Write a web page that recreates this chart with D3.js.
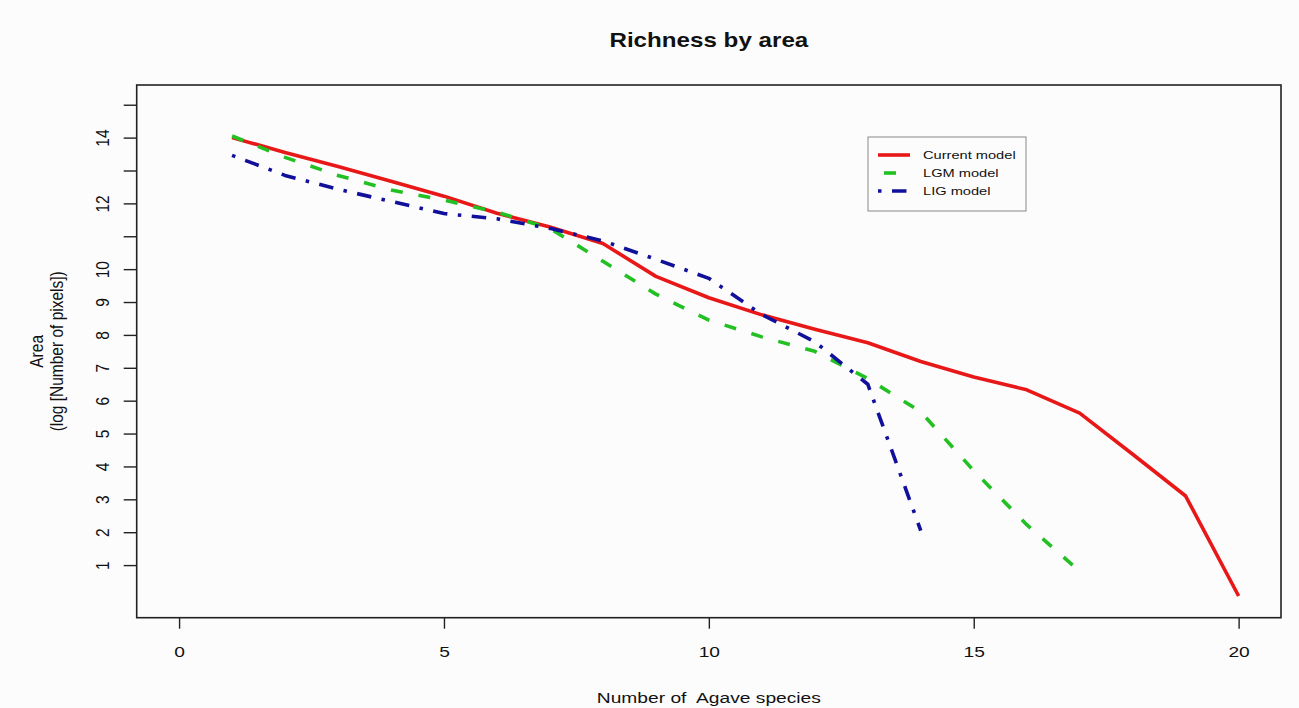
<!DOCTYPE html>
<html>
<head>
<meta charset="utf-8">
<script src="https://cdn.jsdelivr.net/npm/d3@7"></script>
<style>
  html, body { margin: 0; padding: 0; background: #fdfcfd; }
  svg { display: block; font-family: "Liberation Sans", Arial, Helvetica, sans-serif; }
  text { white-space: pre; fill: #111; }
</style>
</head>
<body>
<svg id="chart" width="1299" height="708"></svg>
<script>
// Number of Agave species (x) and log area for each climate model
const species = [1, 2, 3, 4, 5, 6, 7, 8, 9, 10, 11, 12, 13, 14, 15, 16, 17, 18, 19, 20];
const currentModel = [14.0, 13.55, 13.12, 12.67, 12.22, 11.7, 11.28, 10.78, 9.78, 9.13, 8.61, 8.17, 7.76, 7.19, 6.72, 6.33, 5.62, 4.37, 3.1, 0.06];
const lgmModel = [14.05, 13.4, 12.85, 12.41, 12.1, 11.73, 11.24, 10.24, 9.24, 8.45, 7.94, 7.5, 6.67, 5.66, 3.87, 2.23, 0.81];
const ligModel = [13.46, 12.85, 12.43, 12.06, 11.69, 11.53, 11.24, 10.86, 10.3, 9.72, 8.62, 7.79, 6.5, 2.05];

const xTicks = [0, 5, 10, 15, 20];
const yTicks = [1, 2, 3, 4, 5, 6, 7, 8, 9, 10, 11, 12, 13, 14, 15];
const yTickLabels = [1, 2, 3, 4, 5, 6, 7, 8, 9, 10, 12, 14];

const seriesNames = ["Current model", "LGM model", "LIG model"];
const seriesColors = ["#e81818", "#22c022", "#10109a"];
const seriesDash = [null, "12,16", "3.5,10.5,14.5,10.5"];

// horizontal stretch applied to all text
const SX = 1.24;

const svg = d3.select("#chart");
const plot = { left: 136.7, right: 1281, top: 85, bottom: 617.7 };

// xlim c(0,20) and ylim c(0,15) with 4% padding on each side
const xDom = [0, 20], yDom = [0, 15];
const xPad = (xDom[1] - xDom[0]) * 0.04, yPad = (yDom[1] - yDom[0]) * 0.04;
const x = d3.scaleLinear().domain([xDom[0] - xPad, xDom[1] + xPad]).range([plot.left, plot.right]);
const y = d3.scaleLinear().domain([yDom[0] - yPad, yDom[1] + yPad]).range([plot.bottom, plot.top]);

// x axis
const gx = svg.append("g")
  .attr("transform", `translate(0,${plot.bottom})`)
  .call(d3.axisBottom(x).tickValues(xTicks).tickSize(11).tickPadding(0).tickFormat(d3.format("d")));
gx.select(".domain").remove();
gx.selectAll(".tick line").attr("stroke", "#222").attr("stroke-width", 1.4);
gx.selectAll(".tick text")
  .attr("y", null).attr("dy", null)
  .attr("font-size", 15.5).attr("fill", "#111")
  .attr("transform", `translate(0,39) scale(${SX},1)`);

// y axis
const gy = svg.append("g")
  .attr("transform", `translate(${plot.left},0)`)
  .call(d3.axisLeft(y).tickValues(yTicks).tickSize(13).tickPadding(0)
    .tickFormat(d => yTickLabels.includes(d) ? String(d) : ""));
gy.select(".domain").remove();
gy.selectAll(".tick line").attr("stroke", "#222").attr("stroke-width", 1.4);
gy.selectAll(".tick text")
  .attr("x", null).attr("dy", "0.35em")
  .attr("text-anchor", "middle")
  .attr("font-size", 15.5).attr("fill", "#111")
  .attr("transform", `translate(-34,0) scale(${SX},1) rotate(-90)`);

// series lines
const allSeries = [currentModel, lgmModel, ligModel];
const line = d3.line().x((d, i) => x(species[i])).y(d => y(d));
allSeries.forEach((vals, k) => {
  svg.append("path")
    .datum(vals)
    .attr("d", line)
    .attr("fill", "none")
    .attr("stroke", seriesColors[k])
    .attr("stroke-width", 3.6)
    .attr("stroke-linejoin", "round")
    .attr("stroke-dasharray", seriesDash[k]);
});

// plot frame
svg.append("rect")
  .attr("x", plot.left).attr("y", plot.top)
  .attr("width", plot.right - plot.left).attr("height", plot.bottom - plot.top)
  .attr("fill", "none").attr("stroke", "#222").attr("stroke-width", 1.6);

// title
svg.append("text")
  .attr("transform", `translate(${(plot.left + plot.right) / 2},47) scale(${SX},1)`)
  .attr("text-anchor", "middle")
  .attr("font-size", 19.5).attr("font-weight", "bold")
  .text("Richness by area");

// x axis title
svg.append("text")
  .attr("transform", `translate(${(plot.left + plot.right) / 2},703) scale(${SX},1)`)
  .attr("text-anchor", "middle")
  .attr("font-size", 15.5)
  .text("Number of  Agave species");

// y axis title (two lines)
const yMid = (plot.top + plot.bottom) / 2;
[["Area", 36], ["(log [Number of pixels])", 56]].forEach(([t, xp]) => {
  svg.append("text")
    .attr("transform", `translate(${xp},${yMid}) scale(${SX},1) rotate(-90)`)
    .attr("text-anchor", "middle").attr("dy", "0.35em")
    .attr("font-size", 15.5)
    .text(t);
});

// legend
const legend = svg.append("g");
legend.append("rect")
  .attr("x", 868).attr("y", 137).attr("width", 158).attr("height", 74)
  .attr("fill", "none").attr("stroke", "#888").attr("stroke-width", 1);
const rowY = [155, 173, 191];
seriesNames.forEach((name, k) => {
  legend.append("line")
    .attr("x1", 878).attr("x2", 910)
    .attr("y1", rowY[k]).attr("y2", rowY[k])
    .attr("stroke", seriesColors[k]).attr("stroke-width", 3.6)
    .attr("stroke-dasharray", seriesDash[k])
    .attr("stroke-dashoffset", k === 1 ? -6 : 0);
  legend.append("text")
    .attr("transform", `translate(923,${rowY[k]}) scale(${SX},1)`)
    .attr("dy", "0.35em")
    .attr("font-size", 11.8)
    .text(name);
});
</script>
</body>
</html>
